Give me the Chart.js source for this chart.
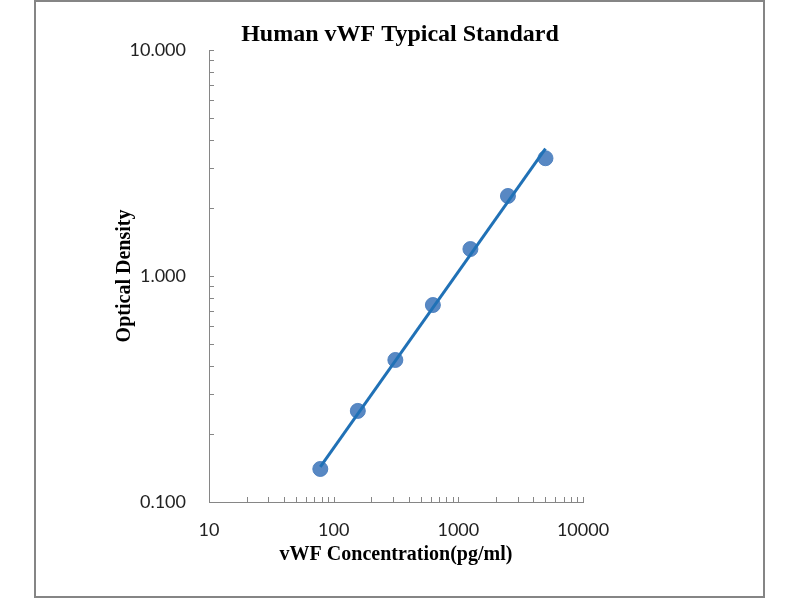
<!DOCTYPE html>
<html>
<head>
<meta charset="utf-8">
<script src="https://cdn.jsdelivr.net/npm/chart.js@4/dist/chart.umd.min.js"></script>
<style>
  html, body { margin: 0; padding: 0; background: #ffffff; }
  #wrap { position: relative; width: 800px; height: 600px; }
  #frame { position: absolute; left: 34px; top: 0px; width: 731px; height: 598px; box-sizing: border-box; border: 2px solid #858585; pointer-events: none; }
  canvas { position: absolute; left: 0; top: 0; }
</style>
</head>
<body>
<div id="wrap">
  <canvas id="c" width="800" height="600"></canvas>
  <div id="frame"></div>
</div>
<script>
// ---- data ----
const chartTitle = "Human vWF Typical Standard";
const xTitle = "vWF Concentration(pg/ml)";
const yTitle = "Optical Density";

const concentrations = [78.125, 156.25, 312.5, 625, 1250, 2500, 5000];
const opticalDensity = [0.140, 0.253, 0.425, 0.744, 1.316, 2.26, 3.32];

// fitted trend line endpoints
const trendX = [78.125, 5000];
const trendY = [0.143, 3.66];

const xMajorTicks = [10, 100, 1000, 10000];
const yMajorTicks = [0.1, 1, 10];
const minorMultipliers = [2, 3, 4, 5, 6, 7, 8, 9];

function allTicks(majors) {
  const out = [];
  majors.forEach((m, i) => {
    out.push(m);
    if (i < majors.length - 1) minorMultipliers.forEach(k => out.push(m * k));
  });
  return out;
}
const xAllTicks = allTicks(xMajorTicks);
const yAllTicks = allTicks(yMajorTicks);

const scatterPts = concentrations.map((x, i) => ({ x: x, y: opticalDensity[i] }));
const trendPts = trendX.map((x, i) => ({ x: x, y: trendY[i] }));

const axisColor = '#868686';

// draws inward tick marks at every tick position using the scales
const innerTicks = {
  id: 'innerTicks',
  afterDraw(chart) {
    const ctx = chart.ctx;
    const xs = chart.scales.x, ys = chart.scales.y;
    const ca = chart.chartArea;
    ctx.save();
    ctx.strokeStyle = axisColor;
    ctx.lineWidth = 1;
    ctx.beginPath();
    xAllTicks.forEach(v => {
      const px = Math.round(xs.getPixelForValue(v)) + 0.5;
      ctx.moveTo(px, ca.bottom);
      ctx.lineTo(px, ca.bottom - 5);
    });
    yAllTicks.forEach(v => {
      const py = Math.round(ys.getPixelForValue(v)) + 0.5;
      ctx.moveTo(ca.left, py);
      ctx.lineTo(ca.left + 5, py);
    });
    ctx.stroke();
    ctx.restore();
  }
};

const serif = '"Liberation Serif", "Times New Roman", serif';
const sans = 'Lato, "Open Sans", sans-serif';

new Chart(document.getElementById('c'), {
  type: 'scatter',
  data: {
    datasets: [
      {
        label: 'trend',
        type: 'line',
        data: trendPts,
        borderColor: '#2071b6',
        borderWidth: 3,
        pointRadius: 0,
        fill: false,
        order: 0
      },
      {
        label: 'OD',
        data: scatterPts,
        backgroundColor: 'rgba(74,126,190,0.92)',
        borderColor: 'rgba(74,126,190,0.92)',
        pointRadius: 7.5,
        pointHoverRadius: 7.5,
        order: 1
      }
    ]
  },
  options: {
    responsive: false,
    animation: false,
    events: [],
    layout: { padding: { top: 0, left: 0, right: 0, bottom: 18 } },
    plugins: {
      legend: { display: false },
      tooltip: { enabled: false },
      title: {
        display: true,
        text: chartTitle,
        color: '#000',
        font: { family: serif, size: 24, weight: 'bold' },
        padding: { top: 20.6, bottom: 0.6 }
      }
    },
    scales: {
      x: {
        type: 'logarithmic',
        min: 10,
        max: 10000,
        afterFit(scale) { scale.height = 80; },
        afterBuildTicks(scale) { scale.ticks = xAllTicks.map(v => ({ value: v })); },
        grid: { display: false, drawTicks: false },
        border: { display: true, color: axisColor, width: 1 },
        ticks: {
          autoSkip: false,
          maxRotation: 0,
          padding: 17,
          color: '#222',
          font: { family: sans, size: 18 },
          callback(v) { return xMajorTicks.includes(v) ? String(v) : ''; }
        },
        title: {
          display: true,
          text: xTitle,
          color: '#000',
          font: { family: serif, size: 20, weight: 'bold' },
          padding: { top: 0, bottom: 15 }
        }
      },
      y: {
        type: 'logarithmic',
        min: 0.1,
        max: 10,
        afterFit(scale) { scale.width = 209; },
        afterBuildTicks(scale) { scale.ticks = yAllTicks.map(v => ({ value: v })); },
        grid: { display: false, drawTicks: false },
        border: { display: true, color: axisColor, width: 1 },
        ticks: {
          autoSkip: false,
          padding: 23,
          color: '#222',
          font: { family: sans, size: 18 },
          callback(v) { return yMajorTicks.some(m => Math.abs(m - v) < 1e-9) ? Number(v).toFixed(3) : ''; }
        },
        title: {
          display: true,
          text: yTitle,
          color: '#000',
          font: { family: serif, size: 20, weight: 'bold' },
          padding: { top: 113, bottom: 0 }
        }
      },
      // empty right-hand spacer axis so the plot ends at the reference's right edge
      spacer: {
        type: 'linear',
        position: 'right',
        display: true,
        afterFit(scale) { scale.width = 217; },
        grid: { display: false, drawTicks: false },
        border: { display: false },
        ticks: { display: false }
      }
    }
  },
  plugins: [innerTicks]
});
</script>
</body>
</html>
